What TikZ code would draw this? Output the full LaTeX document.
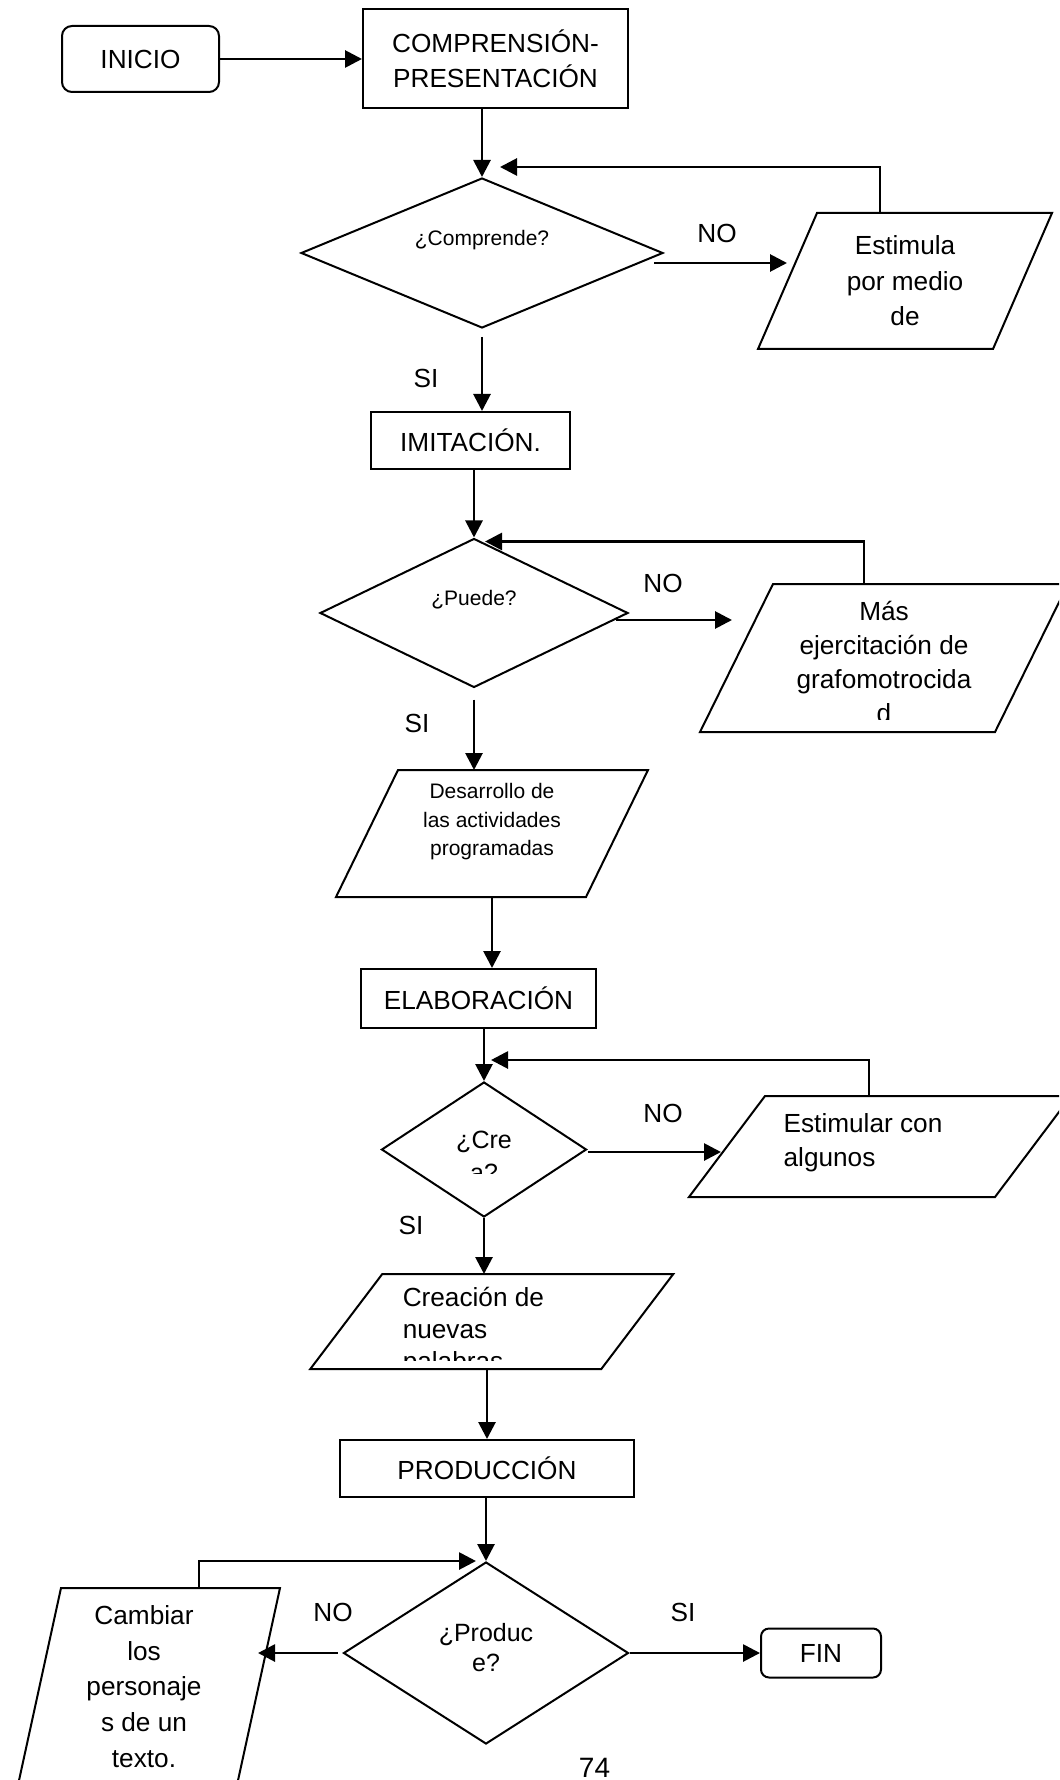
\documentclass[tikz,border=0pt]{standalone}
\usepackage{fontspec}
\setmainfont{Liberation Sans}
\usetikzlibrary{arrows.meta, shapes, positioning}
\newcommand{\grande}{\fontsize{13.1pt}{17.5pt}\selectfont}
\newcommand{\chico}{\fontsize{10.5pt}{14.25pt}\selectfont}
\newcommand{\paral}[2]{\draw[line width=1pt] (#1.south west) -- ([xshift=-#2]#1.south east) -- (#1.north east) -- ([xshift=#2]#1.north west) -- cycle;}

\begin{document}
\begin{tikzpicture}[auto, node distance=3cm,
                    term/.style= {rectangle,
                      rounded corners=5pt,
                      draw,
                      line width=1pt,
                      font=\grande},
                    proc/.style= {rectangle,
                      draw,
                      line width=1pt,
                      align=center,
                      font=\grande},
                    decision/.style= {diamond,
                      draw,
                      line width=1pt,
                      inner sep=0pt},
                    datos/.style= {rectangle,
                      inner sep=0pt,
                      outer sep=0pt,
                      align=center,
                      font=\grande},
                    txt/.style= {inner sep=0pt,
                      font=\grande},
                    flecha/.style= {line width=1.4pt,
                      -{Triangle[length=8.5pt,width=8.5pt]}}]

  \useasboundingbox (0,0) rectangle (529.5pt,-890pt);
  \clip (0,0) rectangle (529.5pt,-890pt);

  \node[term, minimum width=78.5pt, minimum height=33pt] (inicio) at (70.25pt,-29.5pt) {INICIO};
  \node[proc, minimum width=132.5pt, minimum height=49.5pt, node distance=177.5pt] (comp) [right of=inicio] {COMPRENSIÓN-\\PRESENTACIÓN};
  \node[decision, minimum width=181pt, minimum height=75pt, node distance=97pt] (dec1) [below of=comp, xshift=-6.75pt] {};
  \node[txt, font=\chico, node distance=6.5pt] (dec1t) [above of=dec1] {¿Comprende?};
  \node[datos, minimum width=147pt, minimum height=68pt, node distance=211.5pt, font=\fontsize{13.1pt}{17.75pt}\selectfont] (estim) [right of=dec1, yshift=-14pt] {Estimula\\por medio\\de};
  \node[txt, node distance=117.5pt] (no1) [right of=dec1, yshift=10pt] {NO};
  \node[txt, node distance=62.5pt] (si1) [below of=dec1, xshift=-28pt] {SI};

  \node[proc, minimum width=99.5pt, minimum height=28.5pt, node distance=93.75pt] (imit) [below of=dec1, xshift=-5.75pt] {IMITACIÓN.};
  \node[decision, minimum width=154pt, minimum height=74.5pt, node distance=86.25pt] (dec2) [below of=imit, xshift=1.75pt] {};
  \node[txt, font=\chico, node distance=6.5pt] (dec2t) [above of=dec2] {¿Puede?};
  \node[datos, minimum width=184pt, minimum height=74pt, node distance=205pt] (mas) [right of=dec2, yshift=-22.5pt] {};
  \begin{scope}
    \clip (mas.north west) rectangle ([yshift=6.5pt]mas.south east);
    \node[txt, align=center, font=\fontsize{13.1pt}{17pt}\selectfont, node distance=2pt] (mast) [below of=mas] {Más\\ejercitación de\\grafomotrocida\\d};
  \end{scope}
  \node[txt, node distance=94.5pt] (no2) [right of=dec2, yshift=15pt] {NO};
  \node[txt, node distance=55pt] (si2) [below of=dec2, xshift=-28.5pt] {SI};

  \node[datos, minimum width=156pt, minimum height=63.5pt, node distance=110.25pt] (desa) [below of=dec2, xshift=9pt] {};
  \node[txt, align=center, font=\chico, node distance=5.75pt] (desat) [above of=desa] {Desarrollo de\\las actividades\\programadas};
  \node[proc, minimum width=117.5pt, minimum height=29.5pt, node distance=82.5pt] (elab) [below of=desa, xshift=-6.75pt] {ELABORACIÓN};

  \node[decision, minimum width=102.5pt, minimum height=67.5pt, node distance=75.5pt] (dec3) [below of=elab, xshift=2.75pt] {};
  \begin{scope}
    \clip (dec3.west |- dec3.north) rectangle ([yshift=-11.75pt]dec3.east);
    \node[txt, align=center, font=\fontsize{12.5pt}{16.5pt}\selectfont, node distance=3.25pt] (dec3t) [below of=dec3] {¿Cre\\a?};
  \end{scope}
  \node[datos, minimum width=191pt, minimum height=50.5pt, node distance=198pt] (estimc) [right of=dec3, yshift=1.5pt] {};
  \node[txt, align=left, font=\fontsize{13.1pt}{17pt}\selectfont, node distance=2.1pt] (estimct) [above of=estimc, xshift=-8.5pt] {Estimular con\\algunos};
  \node[txt, node distance=89.5pt] (no3) [right of=dec3, yshift=18.25pt] {NO};
  \node[txt, node distance=37.75pt] (si3) [below of=dec3, xshift=-36.5pt] {SI};

  \node[datos, minimum width=181.5pt, minimum height=47.5pt, node distance=86pt] (crea) [below of=dec3, xshift=3.9pt] {};
  \begin{scope}
    \clip (crea.north west) rectangle ([yshift=4.5pt]crea.south east);
    \node[txt, align=left, font=\fontsize{13.1pt}{16pt}\selectfont, node distance=5.25pt] (creat) [below of=crea, xshift=-9.2pt] {Creación de\\nuevas\\palabras};
  \end{scope}
  \node[proc, minimum width=147pt, minimum height=28.5pt, node distance=73.5pt] (prod) [below of=crea, xshift=-2.4pt] {PRODUCCIÓN};

  \node[decision, minimum width=142.5pt, minimum height=91pt, node distance=92.25pt] (dec4) [below of=prod, xshift=-0.5pt] {};
  \node[txt, align=center, font=\fontsize{12.5pt}{15pt}\selectfont, node distance=2.75pt] (dec4t) [above of=dec4] {¿Produc\\e?};
  \node[term, minimum width=60pt, minimum height=24.5pt, rounded corners=4pt, node distance=167.5pt] (fin) [right of=dec4] {FIN};
  \node[datos, minimum width=131pt, minimum height=98.5pt, node distance=168.5pt] (camb) [left of=dec4, yshift=-16.75pt] {};
  \node[txt, align=center, font=\fontsize{13.1pt}{17.9pt}\selectfont, node distance=2.5pt] (cambt) [left of=camb] {Cambiar\\los\\personaje\\s de un\\texto.};
  \node[txt, node distance=76.5pt] (no4) [left of=dec4, yshift=20.5pt] {NO};
  \node[txt, node distance=98.5pt] (si4) [right of=dec4, yshift=20.5pt] {SI};
  \node[txt, font=\fontsize{14pt}{16pt}\selectfont, node distance=57.5pt] (pag) [below of=dec4, xshift=54.25pt] {74};

  % parallelograms
  \paral{estim}{29.5pt}
  \paral{mas}{36.5pt}
  \paral{desa}{31pt}
  \paral{estimc}{38pt}
  \paral{crea}{36pt}
  \paral{camb}{21.5pt}

  % connectors
  \path[flecha] (inicio) edge (comp);
  \draw[flecha] (comp.south -| dec1.north) -- (dec1.north);
  \draw[flecha] ([shift={(-5pt,-5pt)}]dec1.east) -- ([shift={(14.5pt,9pt)}]estim.west);
  \draw[flecha] ([xshift=-12.5pt]estim.north) |- ([shift={(9pt,5pt)}]dec1.north);
  \draw[flecha] ([yshift=-4pt]dec1.south) -- (dec1.south |- imit.north);

  \draw[flecha] (imit.south -| dec2.north) -- (dec2.north);
  \draw[flecha] ([shift={(-6.5pt,-3.5pt)}]dec2.east) -- ([shift={(16pt,19pt)}]mas.west);
  \draw[flecha] ([xshift=-10pt]mas.north) |- ([shift={(5.5pt,-2pt)}]dec2.north);
  \draw[flecha] ([yshift=-5.5pt]dec2.south) -- (dec2.south |- desa.north);
  \draw[flecha] (desa.south) -- (desa.south |- elab.north);

  \draw[flecha] (elab.south -| dec3.north) -- (dec3.north);
  \draw[flecha] ([yshift=-1.25pt]dec3.east) -- ([shift={(16pt,-2.75pt)}]estimc.west);
  \draw[flecha] ([xshift=-5.5pt]estimc.north) |- ([shift={(3.5pt,10.5pt)}]dec3.north);
  \draw[flecha] (dec3.south) -- (dec3.south |- crea.north);
  \draw[flecha] (crea.south -| prod.north) -- (prod.north);

  \draw[flecha] (prod.south -| dec4.north) -- (dec4.north);
  \path[flecha] (dec4) edge (fin);
  \draw[flecha] ([xshift=-2.5pt]dec4.west) -- ([shift={(-11pt,16.75pt)}]camb.east);
  \draw[flecha] ([xshift=25pt]camb.north) |- ([xshift=-5pt]dec4.north);
\end{tikzpicture}
\end{document}
